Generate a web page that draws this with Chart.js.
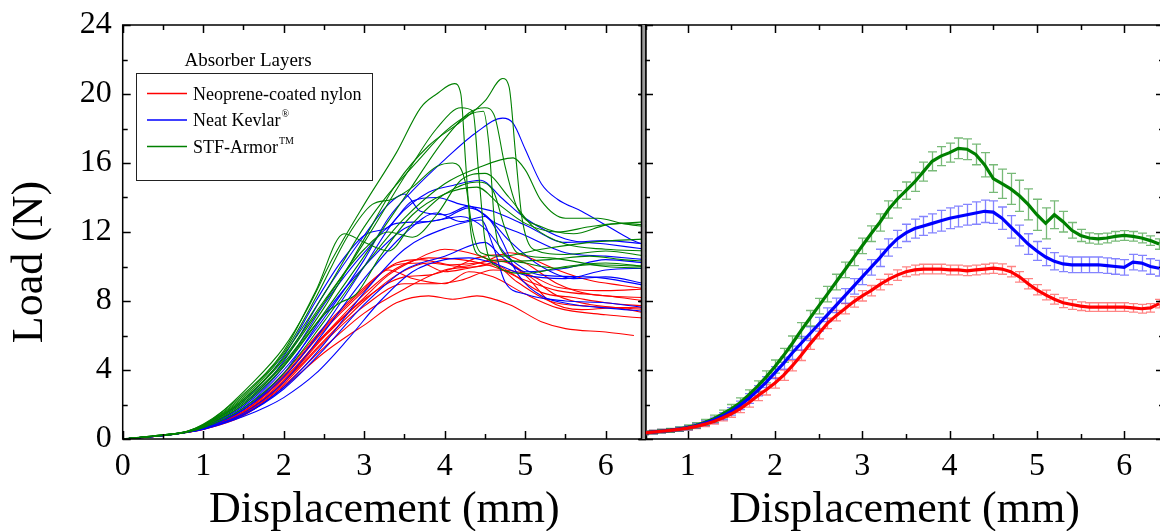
<!DOCTYPE html>
<html>
<head>
<meta charset="utf-8">
<script src="https://cdn.jsdelivr.net/npm/chart.js@4.4.1/dist/chart.umd.min.js"></script>
<style>
  html, body { margin: 0; padding: 0; background: #fff; overflow: hidden; }
  #wrap { position: relative; width: 1160px; height: 531px; overflow: hidden; }
  canvas { position: absolute; left: 0; top: 0; }
</style>
</head>
<body>
<div id="wrap">
  <canvas id="left" width="1160" height="531"></canvas>
  <canvas id="right" width="1170" height="531"></canvas>
</div>
<script>
// ---- tick values ----
const xTicksLeft = [0, 1, 2, 3, 4, 5, 6];
const xTicksRight = [1, 2, 3, 4, 5, 6];
const yTicks = [0, 4, 8, 12, 16, 20, 24];

const legendTitle = 'Absorber Layers';
const seriesNames = ['Neoprene-coated nylon', 'Neat Kevlar', 'STF-Armor'];
const seriesSup = ['', '\u00AE', 'TM'];

// ---- left panel: individual tests [displacement, load] ----
const green1 = [[0,0],[0.5,0.25],[0.8,0.45],[1.1,1.1],[1.6,3.2],[2.0,5.3],[2.3,7.6],[2.6,10.4],[3.0,13.6],[3.4,16.6],[3.7,19.2],[3.9,20.0],[4.12,20.6],[4.2,20.0],[4.26,16.0],[4.33,11.8],[4.45,10.6],[4.8,10.3],[5.3,10.4],[5.8,10.6],[6.2,10.4],[6.5,10.3]];
const green2 = [[0,0],[0.5,0.22],[0.8,0.42],[1.0,0.75],[1.5,2.2],[2.0,4.4],[2.5,7.6],[3.0,11.6],[3.4,14.8],[3.8,17.0],[4.2,18.4],[4.5,19.6],[4.72,20.9],[4.8,20.4],[4.88,16.5],[4.96,12.8],[5.1,11.0],[5.5,10.7],[6.0,10.9],[6.5,10.6]];
const green3 = [[0,0],[0.5,0.24],[0.8,0.44],[1.0,0.8],[1.5,2.3],[2.0,4.6],[2.5,7.9],[3.0,11.4],[3.5,15.2],[3.9,18.0],[4.2,19.2],[4.35,19.0],[4.42,15.5],[4.5,11.5],[4.65,10.0],[5.0,9.6],[5.5,10.0],[6.0,10.2],[6.5,10.0]];
const green4 = [[0,0],[0.5,0.2],[0.8,0.4],[1.0,0.7],[1.5,2.0],[2.0,4.2],[2.5,7.3],[3.0,10.6],[3.5,14.0],[4.0,17.4],[4.3,18.9],[4.5,19.2],[4.62,18.7],[4.75,15.8],[4.9,13.4],[5.2,12.3],[5.6,11.9],[6.0,12.4],[6.5,12.6]];
const green5 = [[0,0],[0.5,0.23],[0.8,0.43],[1.0,0.8],[1.5,2.4],[2.0,4.9],[2.5,8.4],[3.0,12.3],[3.3,14.2],[3.7,16.3],[4.0,17.8],[4.3,18.8],[4.48,19.0],[4.55,17.0],[4.62,12.5],[4.72,10.8],[5.0,10.2],[5.4,9.9],[5.8,10.1],[6.5,10.0]];
const green6 = [[0,0],[0.5,0.2],[0.8,0.4],[1.0,0.65],[1.5,1.8],[2.0,3.8],[2.5,6.8],[3.0,10.0],[3.5,12.8],[4.0,14.8],[4.4,15.7],[4.85,16.3],[5.0,15.6],[5.2,13.8],[5.5,12.8],[5.9,12.8],[6.2,12.5],[6.5,12.3]];
const green7 = [[0,0],[0.5,0.22],[0.8,0.42],[1.0,0.8],[1.5,2.5],[2.0,5.0],[2.4,8.2],[2.8,11.8],[3.1,13.6],[3.35,13.9],[3.6,14.6],[3.9,15.8],[4.1,16.0],[4.25,15.0],[4.35,12.0],[4.45,10.8],[4.7,10.6],[5.2,11.0],[5.8,11.4],[6.5,11.6]];
const green8 = [[0,0],[0.5,0.24],[0.8,0.45],[1.0,0.85],[1.5,2.6],[2.0,5.1],[2.4,8.6],[2.75,11.9],[3.0,11.4],[3.3,10.9],[3.6,12.5],[4.0,14.2],[4.4,14.9],[4.6,14.4],[4.75,12.2],[4.9,10.8],[5.3,10.5],[6.0,10.0],[6.5,9.9]];
const green9 = [[0,0],[0.5,0.21],[0.8,0.41],[1.0,0.7],[1.5,2.1],[2.0,4.3],[2.5,7.2],[2.7,7.9],[2.9,8.4],[3.2,10.6],[3.6,13.0],[4.0,14.2],[4.4,14.6],[4.7,13.5],[5.0,12.5],[5.4,12.0],[5.8,12.3],[6.2,12.5],[6.5,12.4]];
const green10 = [[0,0],[0.5,0.22],[0.8,0.43],[1.0,0.75],[1.5,2.3],[2.0,4.7],[2.5,8.0],[3.0,11.0],[3.3,12.0],[3.6,11.7],[3.9,13.0],[4.2,15.0],[4.5,15.4],[4.8,14.0],[5.1,12.3],[5.5,11.3],[6.0,11.0],[6.5,10.9]];

const blue1 = [[0,0],[0.5,0.2],[0.8,0.4],[1.0,0.6],[1.5,1.8],[2.0,4.0],[2.5,7.0],[3.0,10.4],[3.3,12.8],[3.6,14.4],[4.0,16.2],[4.4,17.8],[4.72,18.6],[4.85,18.3],[5.0,16.8],[5.2,14.8],[5.4,13.9],[5.7,13.2],[6.0,12.4],[6.3,11.6],[6.5,11.2]];
const blue2 = [[0,0],[0.5,0.21],[0.8,0.41],[1.0,0.65],[1.5,1.7],[2.0,3.6],[2.5,6.5],[3.0,10.0],[3.4,12.8],[3.8,14.3],[4.1,14.7],[4.45,15.0],[4.7,14.0],[5.0,12.8],[5.5,11.6],[6.0,11.3],[6.5,11.0]];
const blue3 = [[0,0],[0.5,0.22],[0.8,0.42],[1.0,0.7],[1.5,2.0],[2.0,4.5],[2.5,8.4],[3.0,11.8],[3.3,13.6],[3.5,14.2],[3.7,13.2],[4.0,13.0],[4.3,13.5],[4.6,12.6],[5.0,11.8],[5.5,10.8],[6.0,10.6],[6.5,10.4]];
const blue4 = [[0,0],[0.5,0.2],[0.8,0.4],[1.0,0.62],[1.5,1.7],[2.0,3.8],[2.5,7.2],[3.0,10.0],[3.5,12.2],[4.0,12.8],[4.3,13.4],[4.5,13.0],[4.8,11.5],[5.2,10.0],[5.6,9.3],[6.0,9.4],[6.5,9.0]];
const blue5 = [[0,0],[0.5,0.2],[0.8,0.4],[1.0,0.6],[1.5,1.5],[2.0,3.3],[2.5,6.2],[3.0,9.3],[3.5,11.9],[3.9,13.1],[4.2,12.6],[4.5,12.9],[4.7,11.6],[4.9,9.6],[5.2,8.3],[5.6,7.8],[6.0,7.6],[6.5,7.4]];
const blue6 = [[0,0],[0.5,0.19],[0.8,0.39],[1.0,0.58],[1.5,1.4],[2.0,3.0],[2.5,5.5],[3.0,8.5],[3.5,11.0],[4.0,12.2],[4.45,12.7],[4.6,11.2],[4.75,9.1],[5.0,8.4],[5.5,8.0],[6.0,7.9],[6.5,7.6]];
const blue7 = [[0,0],[0.5,0.2],[0.8,0.4],[1.0,0.58],[1.5,1.4],[2.0,2.9],[2.5,5.2],[3.0,7.8],[3.5,9.8],[4.0,10.6],[4.5,11.4],[4.7,10.6],[5.0,9.7],[5.5,9.9],[6.0,10.4],[6.5,10.2]];
const blue8 = [[0,0],[0.5,0.19],[0.8,0.38],[1.0,0.55],[1.5,1.3],[1.8,1.9],[2.0,2.4],[2.4,3.8],[2.8,5.8],[3.2,8.0],[3.6,9.7],[4.0,10.4],[4.3,10.5],[4.6,10.2],[5.0,9.5],[5.5,9.3],[6.0,9.8],[6.5,9.9]];
const blue9 = [[0,0],[0.5,0.21],[0.8,0.42],[1.0,0.68],[1.5,1.9],[2.0,4.2],[2.5,7.8],[3.0,10.8],[3.4,12.5],[3.8,12.6],[4.2,12.9],[4.5,12.2],[4.8,10.5],[5.2,9.5],[5.8,9.4],[6.5,8.9]];
const blue10 = [[0,0],[0.5,0.22],[0.8,0.43],[1.0,0.75],[1.5,2.2],[2.0,4.8],[2.4,8.0],[2.7,10.2],[3.0,11.8],[3.3,12.3],[3.6,13.8],[3.9,14.0],[4.2,13.6],[4.6,13.2],[5.0,12.4],[5.5,11.4],[6.0,11.5],[6.5,11.3]];

const red1 = [[0,0],[0.5,0.2],[0.8,0.4],[1.0,0.6],[1.5,1.6],[2.0,3.5],[2.5,6.0],[3.0,8.2],[3.3,9.5],[3.6,10.3],[4.0,11.0],[4.2,10.9],[4.5,10.5],[4.8,9.7],[5.2,8.5],[5.6,8.2],[6.0,7.9],[6.5,7.7]];
const red2 = [[0,0],[0.5,0.2],[0.8,0.4],[1.0,0.58],[1.5,1.5],[2.0,3.3],[2.5,5.7],[3.0,8.0],[3.4,9.5],[3.8,10.2],[4.2,10.0],[4.5,10.3],[4.8,10.8],[5.0,10.6],[5.4,9.8],[5.8,9.2],[6.2,8.9],[6.5,8.7]];
const red3 = [[0,0],[0.5,0.21],[0.8,0.41],[1.0,0.62],[1.5,1.7],[2.0,3.8],[2.5,6.5],[3.0,8.8],[3.4,10.2],[3.7,10.4],[4.1,10.1],[4.4,10.2],[4.7,10.4],[5.0,9.6],[5.4,8.3],[5.8,7.8],[6.5,7.5]];
const red4 = [[0,0],[0.5,0.19],[0.8,0.39],[1.0,0.56],[1.5,1.4],[2.0,3.1],[2.5,5.3],[3.0,7.3],[3.5,8.7],[4.0,9.8],[4.4,10.0],[4.7,10.3],[5.0,9.5],[5.3,8.0],[5.7,7.5],[6.1,7.6],[6.5,7.3]];
const red5 = [[0,0],[0.5,0.19],[0.8,0.38],[1.0,0.55],[1.5,1.35],[2.0,3.0],[2.5,5.0],[2.8,6.0],[3.0,6.6],[3.4,7.9],[3.8,8.3],[4.1,8.1],[4.4,8.3],[4.8,7.8],[5.2,6.8],[5.5,6.4],[6.0,6.2],[6.35,6.0]];
const red6 = [[0,0],[0.5,0.2],[0.8,0.4],[1.0,0.6],[1.5,1.6],[2.0,3.6],[2.5,6.3],[3.0,8.6],[3.3,9.8],[3.6,9.3],[4.0,9.0],[4.3,9.7],[4.6,9.4],[5.0,8.4],[5.4,7.6],[6.0,7.2],[6.5,7.0]];
const red7 = [[0,0],[0.5,0.2],[0.8,0.4],[1.0,0.6],[1.5,1.55],[2.0,3.4],[2.5,6.0],[3.0,8.4],[3.4,9.9],[3.8,10.5],[4.2,10.4],[4.6,10.0],[5.0,9.2],[5.4,8.6],[6.0,8.3],[6.5,8.0]];
const red8 = [[0,0],[0.5,0.2],[0.8,0.39],[1.0,0.57],[1.5,1.45],[2.0,3.2],[2.5,5.6],[3.0,7.7],[3.5,9.0],[3.9,9.0],[4.2,9.2],[4.6,9.8],[5.0,9.6],[5.4,8.8],[6.0,8.6],[6.5,8.7]];
const red9 = [[0,0],[0.5,0.21],[0.8,0.41],[1.0,0.62],[1.5,1.7],[2.0,3.7],[2.5,6.4],[3.0,8.7],[3.4,10.1],[3.7,10.2],[4.0,9.7],[4.3,9.9],[4.6,10.1],[4.9,9.1],[5.3,8.0],[5.8,7.7],[6.5,7.6]];
const red10 = [[0,0],[0.5,0.2],[0.8,0.4],[1.0,0.59],[1.5,1.5],[2.0,3.3],[2.5,5.9],[3.0,8.1],[3.5,9.4],[3.8,9.5],[4.1,9.9],[4.4,10.5],[4.7,10.7],[5.0,10.2],[5.4,9.0],[5.8,8.4],[6.5,8.2]];

// ---- right panel: averages with standard error ----
const meanX = [0.5,0.6,0.7,0.8,0.9,1.0,1.1,1.2,1.3,1.4,1.5,1.6,1.7,1.8,1.9,2.0,2.1,2.2,2.3,2.4,2.5,2.6,2.7,2.8,2.9,3.0,3.1,3.2,3.3,3.4,3.5,3.6,3.7,3.8,3.9,4.0,4.1,4.2,4.3,4.4,4.5,4.6,4.7,4.8,4.9,5.0,5.1,5.2,5.3,5.4,5.5,5.6,5.7,5.8,5.9,6.0,6.1,6.2,6.3,6.4];
const greenMean = [0.35,0.4,0.45,0.5,0.58,0.68,0.8,0.97,1.18,1.45,1.75,2.1,2.55,3.05,3.6,4.2,4.85,5.55,6.3,7.0,7.7,8.4,9.1,9.8,10.5,11.2,11.9,12.55,13.3,13.9,14.4,14.9,15.5,16.1,16.4,16.6,16.85,16.8,16.5,15.9,15.1,14.8,14.5,14.1,13.6,13.0,12.5,13.0,12.6,12.1,11.8,11.65,11.6,11.65,11.75,11.8,11.75,11.65,11.5,11.3];
const greenErr = [0.1,0.1,0.1,0.12,0.12,0.14,0.15,0.17,0.2,0.22,0.25,0.28,0.3,0.32,0.35,0.38,0.4,0.42,0.45,0.45,0.45,0.45,0.45,0.45,0.45,0.45,0.45,0.5,0.5,0.5,0.5,0.55,0.55,0.55,0.55,0.55,0.6,0.6,0.6,0.7,0.8,0.85,0.9,0.9,0.9,0.9,0.9,0.8,0.6,0.45,0.35,0.3,0.3,0.28,0.28,0.28,0.28,0.28,0.28,0.3];
const blueMean = [0.35,0.4,0.45,0.5,0.57,0.65,0.77,0.92,1.1,1.33,1.6,1.95,2.35,2.8,3.3,3.85,4.4,5.0,5.55,6.1,6.65,7.2,7.75,8.3,8.85,9.4,9.95,10.5,11.1,11.6,11.95,12.2,12.35,12.5,12.65,12.8,12.9,13.0,13.1,13.2,13.15,12.8,12.3,11.8,11.3,10.9,10.55,10.3,10.15,10.1,10.1,10.1,10.1,10.05,10.0,9.95,10.25,10.2,10.0,9.9];
const blueErr = [0.1,0.1,0.1,0.1,0.12,0.12,0.14,0.15,0.17,0.2,0.22,0.25,0.28,0.3,0.32,0.35,0.35,0.38,0.4,0.4,0.4,0.4,0.42,0.42,0.45,0.45,0.45,0.5,0.5,0.5,0.5,0.55,0.55,0.55,0.6,0.6,0.6,0.6,0.65,0.65,0.65,0.65,0.65,0.6,0.6,0.55,0.5,0.5,0.45,0.45,0.45,0.45,0.45,0.45,0.45,0.45,0.45,0.45,0.45,0.45];
const redMean = [0.35,0.4,0.45,0.5,0.56,0.63,0.73,0.86,1.02,1.22,1.46,1.75,2.1,2.5,2.85,3.25,3.7,4.25,4.85,5.5,6.1,6.7,7.15,7.55,7.95,8.3,8.6,8.95,9.25,9.5,9.7,9.8,9.85,9.85,9.85,9.8,9.8,9.75,9.8,9.85,9.9,9.85,9.7,9.4,9.0,8.65,8.35,8.1,7.9,7.8,7.7,7.65,7.65,7.65,7.65,7.65,7.6,7.55,7.6,7.85];
const redErr = [0.1,0.1,0.1,0.1,0.1,0.12,0.12,0.14,0.15,0.17,0.2,0.22,0.25,0.28,0.3,0.3,0.3,0.3,0.3,0.3,0.3,0.3,0.3,0.3,0.3,0.3,0.3,0.3,0.3,0.3,0.28,0.28,0.28,0.28,0.28,0.28,0.28,0.28,0.28,0.28,0.3,0.3,0.3,0.3,0.3,0.3,0.28,0.28,0.28,0.28,0.25,0.25,0.25,0.25,0.25,0.25,0.25,0.25,0.25,0.25];

const RED = '#ff0000';
const BLUE = '#0000ff';
const GREEN = '#008000';
const SERIF = "'Liberation Serif', 'Times New Roman', serif";

const greenCurves = [green1, green2, green3, green4, green5, green6, green7, green8, green9, green10];
const blueCurves = [blue1, blue2, blue3, blue4, blue5, blue6, blue7, blue8, blue9, blue10];
const redCurves = [red1, red2, red3, red4, red5, red6, red7, red8, red9, red10];

function curveSet(curve, color) {
    return {
        data: curve.map(p => ({ x: p[0], y: p[1] })),
        borderColor: color,
        borderWidth: 1.1,
        pointRadius: 0,
        cubicInterpolationMode: 'monotone',
        fill: false
    };
}

function meanSet(values, errs, color, barColor) {
    return {
        data: meanX.map((x, i) => ({ x: x, y: values[i] })),
        errors: errs,
        barColor: barColor,
        borderColor: color,
        borderWidth: 3.2,
        pointRadius: 0,
        tension: 0,
        fill: false
    };
}

// draws the box, the inward tick marks and the axis titles
function framePlugin(cfg) {
    return {
        id: 'frame' + cfg.name,
        afterDraw(chart) {
            const ctx = chart.ctx;
            const a = chart.chartArea;
            const xs = chart.scales.x, ys = chart.scales.y;
            ctx.save();
            ctx.strokeStyle = '#000';
            ctx.lineWidth = 1.5;
            ctx.strokeRect(a.left, a.top, a.right - a.left, a.bottom - a.top);

            ctx.beginPath();
            for (let v = Math.ceil(xs.min * 2) / 2; v <= xs.max + 1e-9; v += 0.5) {
                const px = Math.round(xs.getPixelForValue(v)) + 0.5;
                const len = (Math.abs(v - Math.round(v)) < 1e-6) ? 8 : 5;
                ctx.moveTo(px, a.bottom); ctx.lineTo(px, a.bottom - len);
                ctx.moveTo(px, a.top); ctx.lineTo(px, a.top + len);
            }
            for (let v = 0; v <= 24; v += 2) {
                const py = Math.round(ys.getPixelForValue(v)) + 0.5;
                const len = (v % 4 === 0) ? 8 : 5;
                const out = cfg.crossLeft ? len - 2 : 0;
                ctx.moveTo(a.left - out, py); ctx.lineTo(a.left + len, py);
                ctx.moveTo(a.right, py); ctx.lineTo(a.right - len, py);
            }
            ctx.stroke();

            if (cfg.doubleLeft) {
                ctx.fillStyle = '#9a9a9a';
                ctx.fillRect(a.left - 3, a.top, 3, a.bottom - a.top);
                ctx.beginPath();
                ctx.moveTo(a.left - 3.5, a.top); ctx.lineTo(a.left - 3.5, a.bottom);
                ctx.stroke();
            }

            ctx.fillStyle = '#000';
            ctx.font = '44px ' + SERIF;
            ctx.textAlign = 'center';
            ctx.textBaseline = 'alphabetic';
            ctx.fillText('Displacement (mm)', (a.left + Math.min(a.right, 1164)) / 2, 522);

            if (cfg.yTitle) {
                ctx.save();
                ctx.translate(42, 262);
                ctx.rotate(-Math.PI / 2);
                ctx.fillText('Load (N)', 0, 0);
                ctx.restore();
            }

            if (cfg.legend) {
                ctx.font = '19px ' + SERIF;
                ctx.fillText(legendTitle, 248, 66);
                ctx.lineWidth = 1;
                ctx.strokeStyle = '#222';
                ctx.strokeRect(136.5, 73.5, 236, 107);
                const cols = [RED, BLUE, GREEN];
                ctx.textAlign = 'left';
                for (let i = 0; i < cols.length; i++) {
                    const y = 93.5 + i * 26.5;
                    ctx.beginPath();
                    ctx.strokeStyle = cols[i];
                    ctx.lineWidth = 1.3;
                    ctx.moveTo(147, y); ctx.lineTo(187, y);
                    ctx.stroke();
                    ctx.fillStyle = '#000';
                    ctx.font = '18px ' + SERIF;
                    ctx.fillText(seriesNames[i], 193, y + 6);
                    if (seriesSup[i]) {
                        const w = ctx.measureText(seriesNames[i]).width;
                        ctx.font = '10px ' + SERIF;
                        ctx.fillText(seriesSup[i], 193 + w + 1, y - 3);
                    }
                }
            }
            ctx.restore();
        }
    };
}

// vertical error bars with caps, drawn under the mean lines
const errorBarPlugin = {
    id: 'errorBars',
    beforeDatasetsDraw(chart) {
        const ctx = chart.ctx;
        const xs = chart.scales.x, ys = chart.scales.y;
        const a = chart.chartArea;
        ctx.save();
        ctx.beginPath();
        ctx.rect(a.left, a.top, a.right - a.left, a.bottom - a.top);
        ctx.clip();
        chart.data.datasets.forEach(ds => {
            if (!ds.errors) return;
            ctx.strokeStyle = ds.barColor;
            ctx.lineWidth = 1.3;
            ctx.beginPath();
            ds.data.forEach((p, i) => {
                const px = Math.round(xs.getPixelForValue(p.x)) + 0.5;
                const top = ys.getPixelForValue(p.y + ds.errors[i]);
                const bot = ys.getPixelForValue(p.y - ds.errors[i]);
                ctx.moveTo(px, top); ctx.lineTo(px, bot);
                ctx.moveTo(px - 4.5, top); ctx.lineTo(px + 4.5, top);
                ctx.moveTo(px - 4.5, bot); ctx.lineTo(px + 4.5, bot);
            });
            ctx.stroke();
        });
        ctx.restore();
    }
};

function axisOpts(ticks, min, max, showLabels, pad, fit) {
    return {
        type: 'linear',
        min: min,
        max: max,
        grid: { display: false },
        border: { display: false },
        afterBuildTicks: s => { s.ticks = ticks.map(v => ({ value: v })); },
        afterFit: fit,
        ticks: {
            display: showLabels,
            color: '#000',
            padding: pad,
            font: { family: SERIF, size: 32 }
        }
    };
}

const leftDatasets = []
    .concat(greenCurves.map(c => curveSet(c, GREEN)))
    .concat(blueCurves.map(c => curveSet(c, BLUE)))
    .concat(redCurves.map(c => curveSet(c, RED)));

new Chart(document.getElementById('left'), {
    type: 'line',
    data: { datasets: leftDatasets },
    options: {
        responsive: false,
        animation: false,
        layout: { padding: { left: 0, top: 25, right: 514, bottom: 0 } },
        plugins: { legend: { display: false }, tooltip: { enabled: false } },
        scales: {
            x: axisOpts(xTicksLeft, 0, 6.5, true, 0, s => { s.height = 92; }),
            y: axisOpts(yTicks, 0, 24, true, 3, s => { s.width = 122.7; })
        }
    },
    plugins: [framePlugin({ name: 'L', yTitle: true, legend: true })]
});

new Chart(document.getElementById('right'), {
    type: 'line',
    data: {
        datasets: [
            meanSet(redMean, redErr, RED, 'rgba(255,50,50,0.6)'),
            meanSet(blueMean, blueErr, BLUE, 'rgba(50,50,255,0.6)'),
            meanSet(greenMean, greenErr, GREEN, 'rgba(30,140,30,0.6)')
        ]
    },
    options: {
        responsive: false,
        animation: false,
        layout: { padding: { left: 645, top: 25, right: 6, bottom: 0 } },
        plugins: { legend: { display: false }, tooltip: { enabled: false } },
        scales: {
            x: axisOpts(xTicksRight, 0.511, 6.456, true, 0, s => { s.height = 92; }),
            y: axisOpts(yTicks, 0, 24, false, 0, s => { s.width = 0; })
        }
    },
    plugins: [errorBarPlugin, framePlugin({ name: 'R', crossLeft: true, doubleLeft: true })]
});
</script>
</body>
</html>
